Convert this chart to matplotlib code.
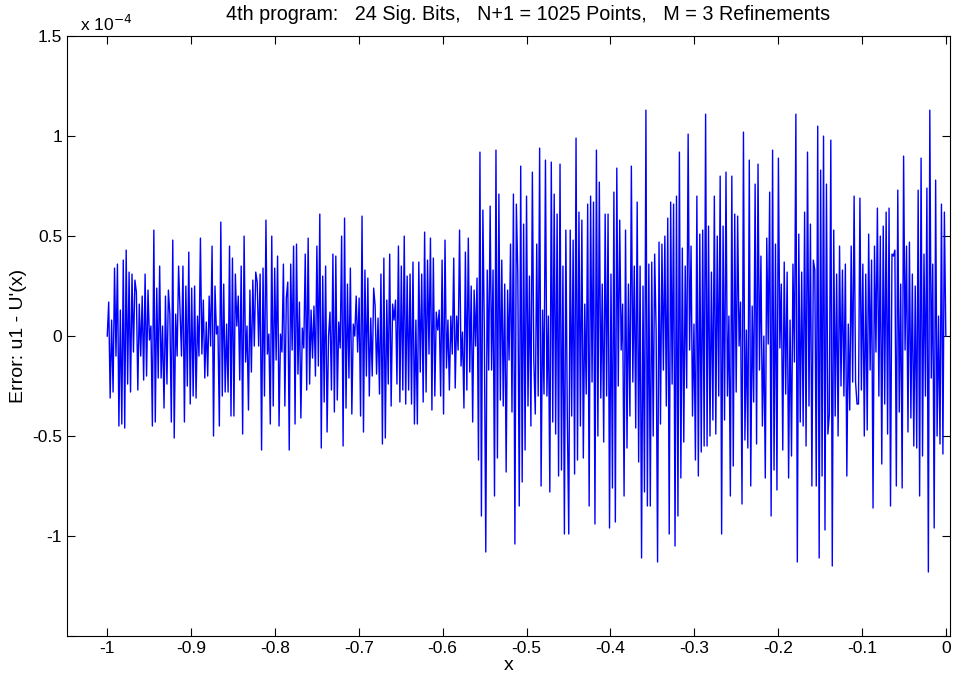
import numpy as np
import matplotlib
matplotlib.use("Agg")
import matplotlib.pyplot as plt

plt.rcParams['font.family'] = ['Liberation Sans', 'DejaVu Sans']

# error values (units of 1e-4), read left to right off the reference, segment by segment
seg1 = [0, 0.17, -0.31, 0.08, -0.28, 0.34, -0.1, 0.36, -0.45, 0.13, -0.44, 0.38, -0.46, 0.43,
        -0.24, 0.32, -0.28, 0.31, -0.08, 0.28, 0.22, -0.27, 0.16, -0.1, 0.2, -0.22, 0.31, -0.2,
        0.23, -0.02, 0.05, -0.45, 0.53, -0.43, 0.24, -0.21, 0.35, -0.21, 0.05, -0.36, 0.2,
        -0.24, 0.23, 0.11, -0.43, 0.48, -0.51, 0.11, -0.1, 0.35]
seg2 = [0.12, -0.1, 0.35, -0.43, 0.25, -0.25, 0.42, -0.34, 0.24, -0.3, 0.25, -0.31, 0.1, -0.1,
        0.49, -0.09, 0.18, -0.21, 0.07, -0.2, 0.2, -0.05, 0.45, -0.5, 0.25, 0.01, 0.05, -0.45,
        0.57, -0.3, 0.26, -0.28, 0.06, -0.28, 0.45, -0.4, 0.39, -0.4, 0.31, 0.05, 0.2, -0.22,
        0.35, -0.49, 0.5, -0.13, 0.05, -0.37, 0.23, -0.18, 0.28, -0.05, 0.32]
seg3 = [0.27, -0.05, 0.31, -0.57, 0.34, -0.3, 0.58, -0.09, 0.01, -0.44, 0.5, -0.35, 0.34, -0.12,
        0.4, -0.45, 0.01, -0.08, 0.36, -0.35, 0.19, 0.27, -0.57, 0.36, -0.07, 0.45, -0.44, 0.46,
        -0.19, 0.17, -0.41, 0.04, -0.06, 0.41, -0.27, 0.49, -0.24, 0.13, -0.11, 0.15, -0.2,
        0.45, -0.15, 0.61, -0.56, 0.3, -0.33, 0.35, -0.48, 0.0]
seg4 = [0.12, -0.27, 0.41, -0.38, 0.4, -0.32, 0.07, -0.06, 0.5, -0.55, 0.59, -0.36, 0.26, -0.21,
        0.34, -0.39, 0.06, 0.0, 0.2, -0.08, 0.19, -0.4, 0.6, -0.48, 0.33, -0.2, 0.29, -0.3, 0.09,
        -0.2, 0.24, 0.15, -0.19, 0.09, -0.29, 0.31, -0.54, 0.39, -0.51, 0.18, -0.24, 0.41, -0.35,
        0.16, 0.08, 0.18, -0.24, 0.45, -0.33, 0.35, -0.27, 0.5, -0.34, 0.3, -0.27]
seg5 = [0.31, -0.34, 0.37, -0.44, 0.08, -0.44, 0.37, -0.18, 0.31, -0.33, 0.52, -0.28, 0.38, -0.09,
        0.49, -0.37, 0.39, -0.3, 0.12, 0.03, 0.13, -0.3, 0.38, -0.39, 0.48, -0.16, 0.08, -0.27,
        0.1, -0.09, 0.39, -0.26, 0.1, -0.07, 0.53, -0.15, 0.02, -0.36, 0.42, -0.27, 0.49, -0.18,
        0.25, -0.43, 0.23, -0.05, 0.29, -0.62, 0.92, -0.9, 0.63, 0.03, -1.08, 0.33, -0.17]
seg6 = [0.65, -0.17, 0.33, -0.8, 0.93, -0.61, 0.71, -0.32, 0.38, -0.35, 0.26, -0.68, 0.23, -0.12,
        0.46, -0.38, 0.71, -1.04, 0.66, 0.31, -0.85, 0.85, -0.73, 0.56, -0.57, 0.7, -0.35, 0.3,
        -0.45, 0.82, -0.12, -0.39, 0.46, -0.3, 0.94, -0.75, 0.13, -0.29, 0.88, -0.3, 0.1, -0.78,
        0.87, -0.43, 0.71, -0.49, 0.61, -0.7, 0.86, -0.67, 0.35, -0.99, 0.53, -0.4]
seg7 = [-0.99, 0.53, -0.4, 0.48, -0.69, 0.99, -0.62, 0.62, -0.45, 0.58, -0.61, 0.16, -0.29, 0.66,
        -0.85, 0.7, -0.23, 0.67, -0.94, 0.93, -0.5, 0.77, -0.31, 0.26, -0.53, 0.61, -0.3, 0.61,
        -0.96, 0.31, -0.76, 0.72, -0.93, 0.84, -0.25, 0.58, -0.07, 0.16, -0.8, 0.53, -0.56, 0.26,
        -0.4, 0.85, -0.23, 0.35, -0.46, 0.67, -0.63, 0.35, -1.11, 0.25, -0.78, 1.13, -0.85, 0.36]
seg8 = [-0.85, 0.37, -0.5, 0.41, 0.03, -1.13, 0.47, -0.44, 0.46, -0.17, 0.5, -0.35, 0.59, -0.99,
        0.67, -0.24, 0.66, -1.05, 0.7, -0.9, 0.92, -0.71, 0.44, -0.53, 0.35, -0.26, 1.01, -0.07,
        0.45, -0.4, 0.06, -0.62, 0.7, -0.7, 0.51, -0.58, 0.53, -0.55, 1.11, -0.55, 0.55, -0.5,
        0.32, -0.42, 0.7, -0.49, 0.5, -0.3, 0.8, -0.99, 0.55, -0.42]
seg9 = [0.82, -0.3, 0.1, -0.8, 0.8, -0.65, 0.61, -0.28, 0.6, -0.05, 0.17, -0.84, 1.02, -0.52,
        0.03, -0.56, 0.88, -0.75, 0.15, -0.33, 0.76, -0.54, 0.86, -0.17, 0.4, -0.45, 0.0, -0.71,
        0.49, -0.04, 0.72, -0.9, 0.93, -0.67, 0.46, -0.77, 0.89, -0.06, 0.26, -0.57, 0.37, -0.29,
        0.32, -0.71, 0.08, -0.6, 0.36, -0.13, 1.11, -1.13, 0.51, -0.43, 0.32, -0.45, 0.62, -0.55,
        0.92, -0.35]
seg10 = [0.56, -0.75, 0.38, 0.33, -0.75, 1.05, -1.11, 0.83, -0.7, 1.0, -0.97, 0.76, -0.49, -0.39,
         0.98, -1.15, 0.53, -0.4, 0.31, -0.5, 0.45, -0.25, 0.33, -0.3, 0.36, -0.7, 0.06, -0.37,
         0.45, -0.23, 0.7, -0.23, -0.34, -0.34, 0.69, -0.27, 0.36, -0.5, 0.31, -0.47, 0.51, -0.17,
         0.38, -0.86, 0.45, -0.08, 0.64, -0.3, 0.5, -0.64, 0.55]
seg11 = [-0.34, 0.62, -0.49, 0.64, -0.85, 0.41, 0.4, 0.43, -0.75, 0.73, -0.38, 0.26, -0.76, 0.9,
         -0.07, 0.45, -0.48, 0.47, -0.41, 0.31, -0.55, 0.25, -0.56, 0.73, -0.8, 0.89, -0.6, 0.41,
         -0.3, 0.74, -1.18, 1.13, -0.21, 0.36, -0.96, 0.78, -0.5, 0.1, -0.54, 0.66, -0.59, 0.62, 0.0]

err = np.array(seg1 + seg2 + seg3 + seg4 + seg5 + seg6 + seg7 + seg8 + seg9 + seg10 + seg11)
x = np.linspace(-1, 0, len(err))

xticks = [-1, -0.9, -0.8, -0.7, -0.6, -0.5, -0.4, -0.3, -0.2, -0.1, 0]
yticks = [-1.5, -1, -0.5, 0, 0.5, 1, 1.5]
ylabels = ['', '-1', '-0.5', '0', '0.5', '1', '1.5']

fig = plt.figure(figsize=(9.64, 6.77), dpi=100)
ax = fig.add_axes([0.0695, 0.0606, 0.916, 0.886])
ax.plot(x, err, color='#0000ff', linewidth=1.0)

ax.set_xlim(-1.048, 0.005)
ax.set_ylim(-1.5, 1.5)
ax.set_xticks(xticks)
ax.set_xticklabels([f"{t:g}" for t in xticks])
ax.set_yticks(yticks)
ax.set_yticklabels(ylabels)
ax.tick_params(direction='in', top=True, right=True, length=6, labelsize=12.5, width=0.8)
for sp in ax.spines.values():
    sp.set_linewidth(0.8)

ax.text(0.015, 1.004, r'x 10$^{-4}$', transform=ax.transAxes, fontsize=12.5, va='bottom')
# MATLAB-style title sits a little right of the axes centre
ax.text(0.522, 1.02, "4th program:   24 Sig. Bits,   N+1 = 1025 Points,   M = 3 Refinements",
        transform=ax.transAxes, fontsize=14.2, ha='center', va='bottom')
ax.set_xlabel('x', fontsize=14, labelpad=1)
ax.set_ylabel("Error: u1 - U'(x)", fontsize=14, labelpad=4)

fig.savefig('out.png', dpi=100)
